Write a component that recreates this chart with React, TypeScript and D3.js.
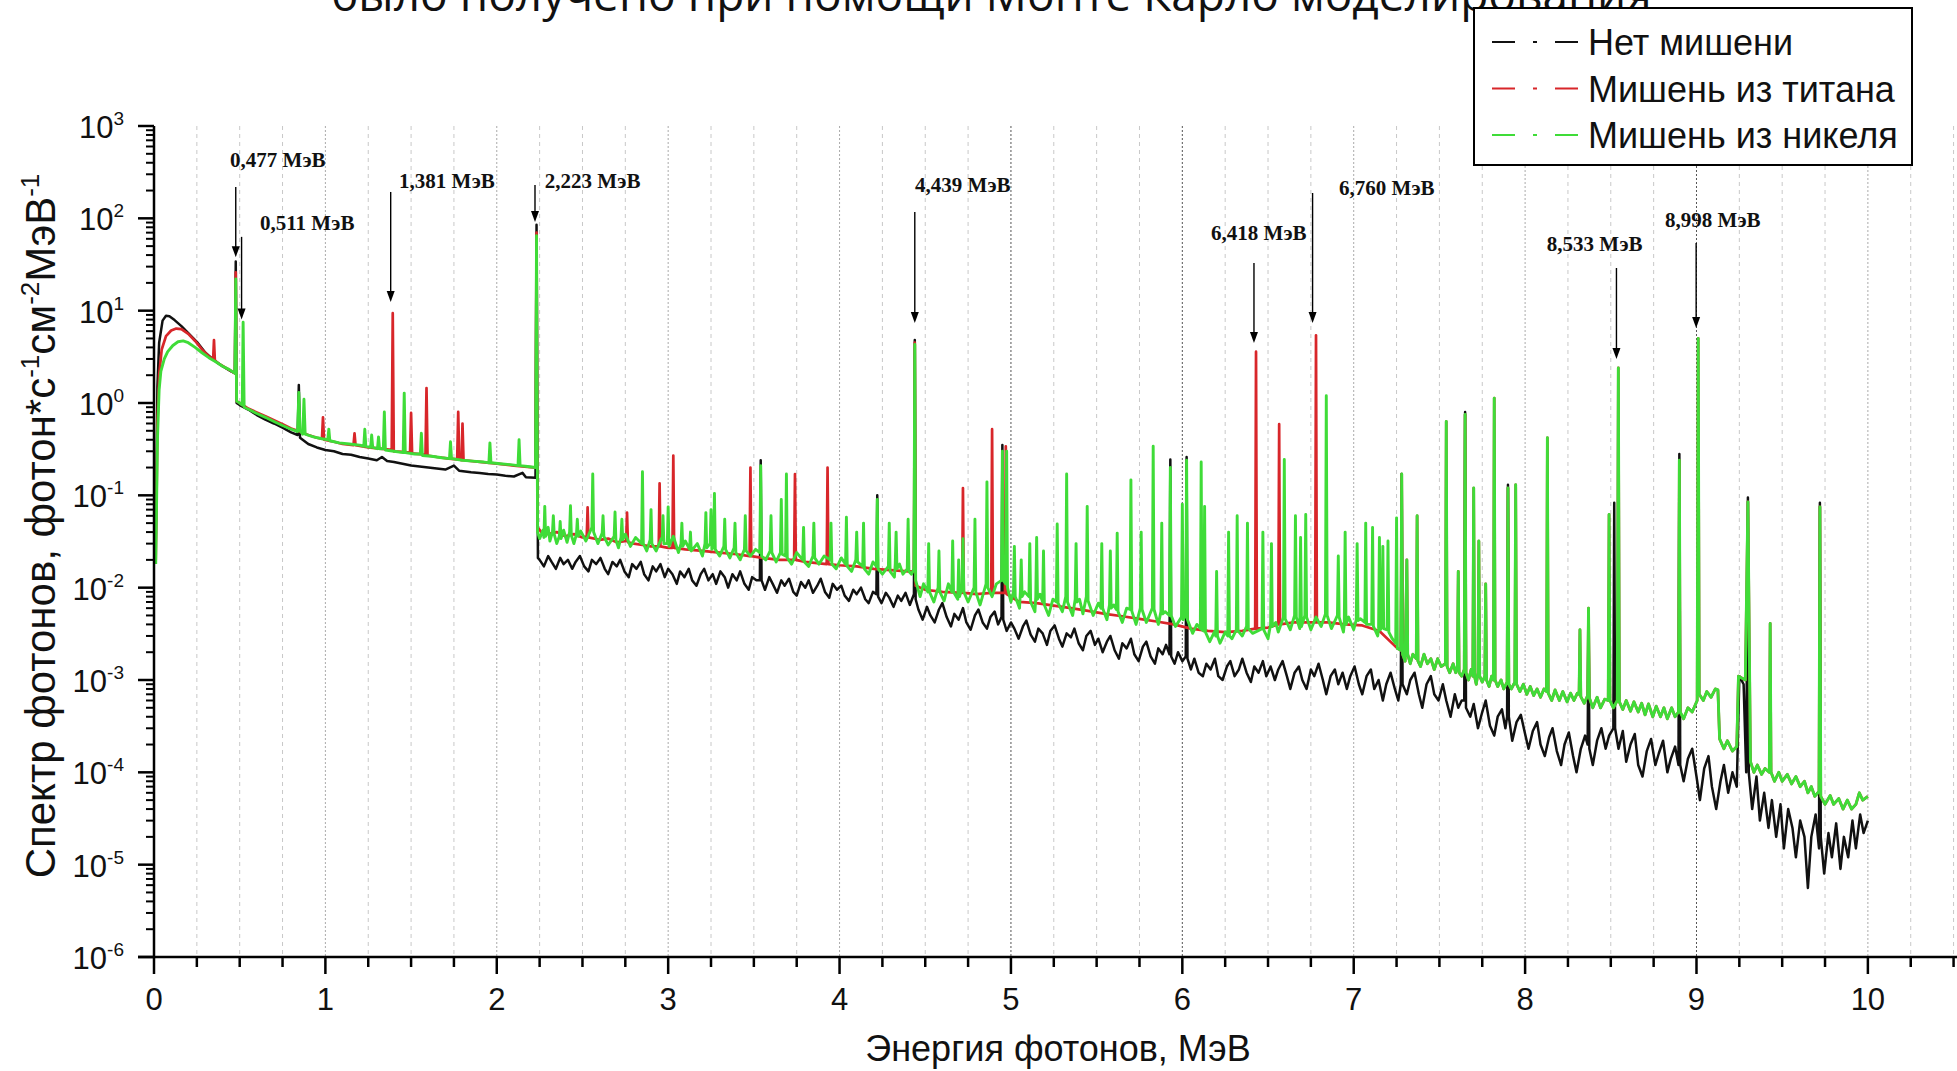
import React from "react";
import * as d3 from "d3";

type Pt = [number, number];

// spectra: [energy MeV, photons s^-1 cm^-2 MeV^-1]
const blackLow: Pt[] = [
  [0.01, 0.03], [0.015, 0.2], [0.02, 1.5], [0.03, 4.5], [0.05, 7.8], [0.07, 8.8], [0.09, 8.7], [0.12, 7.9],
  [0.16, 6.8], [0.2, 5.7], [0.25, 4.6], [0.3, 3.5], [0.35, 2.9], [0.4, 2.5], [0.45, 2.2], [0.472, 2.1],
  [0.477, 34], [0.482, 1.0], [0.5, 0.95], [0.55, 0.85], [0.6, 0.74], [0.65, 0.66], [0.7, 0.6], [0.75, 0.54],
  [0.8, 0.48], [0.838, 0.45], [0.845, 1.57], [0.852, 0.42], [0.9, 0.36], [0.95, 0.33], [1.0, 0.31], [1.05, 0.3],
  [1.1, 0.28], [1.15, 0.275], [1.2, 0.26], [1.25, 0.25], [1.3, 0.24], [1.33, 0.26], [1.36, 0.235], [1.4, 0.23],
  [1.45, 0.22], [1.5, 0.21], [1.55, 0.205], [1.6, 0.2], [1.65, 0.195], [1.7, 0.19], [1.75, 0.21], [1.78, 0.185],
  [1.85, 0.178], [1.9, 0.175], [1.95, 0.17], [2.0, 0.168], [2.05, 0.163], [2.1, 0.16], [2.15, 0.175], [2.17, 0.157],
  [2.226, 0.155], [2.232, 85], [2.24, 0.021],
];

const blackHigh: Pt[] = [
  [2.25, 0.02], [2.275, 0.017], [2.3, 0.022], [2.32, 0.019], [2.345, 0.016], [2.37, 0.021], [2.39, 0.018],
  [2.415, 0.02], [2.44, 0.016], [2.46, 0.019], [2.485, 0.022], [2.51, 0.017], [2.535, 0.015], [2.555, 0.02],
  [2.58, 0.018], [2.605, 0.021], [2.63, 0.016], [2.65, 0.014], [2.675, 0.019], [2.7, 0.017], [2.72, 0.02],
  [2.745, 0.015], [2.77, 0.013], [2.79, 0.018], [2.815, 0.016], [2.84, 0.019], [2.86, 0.014], [2.885, 0.012],
  [2.91, 0.017], [2.93, 0.015], [2.955, 0.018], [2.98, 0.013], [3.0, 0.016], [3.025, 0.014], [3.05, 0.011],
  [3.07, 0.015], [3.095, 0.013], [3.12, 0.016], [3.14, 0.012], [3.165, 0.0105], [3.19, 0.014], [3.21, 0.016],
  [3.235, 0.012], [3.26, 0.014], [3.28, 0.011], [3.305, 0.015], [3.33, 0.013], [3.35, 0.01], [3.375, 0.014],
  [3.4, 0.012], [3.42, 0.015], [3.445, 0.011], [3.47, 0.0095], [3.49, 0.013], [3.515, 0.012], [3.535, 0.012],
  [3.54, 0.24], [3.545, 0.012], [3.565, 0.0095], [3.59, 0.013], [3.61, 0.011], [3.635, 0.0088], [3.66, 0.012],
  [3.68, 0.0105], [3.705, 0.0125], [3.73, 0.009], [3.75, 0.0082], [3.775, 0.0115], [3.8, 0.01], [3.82, 0.012],
  [3.845, 0.0088], [3.87, 0.0105], [3.89, 0.0125], [3.915, 0.009], [3.94, 0.0078], [3.96, 0.011], [3.985, 0.0095],
  [4.01, 0.0105], [4.03, 0.0082], [4.055, 0.0072], [4.08, 0.0095], [4.1, 0.0085], [4.125, 0.01], [4.15, 0.0075],
  [4.17, 0.0068], [4.195, 0.009], [4.215, 0.0085], [4.22, 0.1], [4.225, 0.008], [4.245, 0.0068], [4.27, 0.0088],
  [4.29, 0.0078], [4.315, 0.0062], [4.34, 0.0082], [4.36, 0.0072], [4.385, 0.0088], [4.41, 0.0065], [4.434, 0.0085],
  [4.439, 4.8], [4.444, 0.0075], [4.46, 0.0058], [4.485, 0.0045], [4.51, 0.0062], [4.53, 0.005], [4.555, 0.0042],
  [4.58, 0.0058], [4.6, 0.0068], [4.625, 0.0048], [4.65, 0.0038], [4.67, 0.0052], [4.695, 0.0045], [4.72, 0.006],
  [4.74, 0.0042], [4.765, 0.0035], [4.79, 0.005], [4.81, 0.0058], [4.835, 0.0042], [4.86, 0.0036], [4.88, 0.0048],
  [4.905, 0.0055], [4.925, 0.004], [4.945, 0.0048], [4.95, 0.35], [4.955, 0.0045], [4.975, 0.0034], [5.0, 0.0042],
  [5.02, 0.0036], [5.045, 0.0028], [5.07, 0.0038], [5.09, 0.0044], [5.115, 0.0031], [5.14, 0.0026], [5.16, 0.0036],
  [5.185, 0.0032], [5.21, 0.0024], [5.23, 0.0034], [5.255, 0.0039], [5.28, 0.0028], [5.3, 0.0023], [5.325, 0.0032],
  [5.35, 0.0029], [5.37, 0.0036], [5.395, 0.0025], [5.42, 0.0021], [5.44, 0.003], [5.465, 0.0034], [5.49, 0.0024],
  [5.51, 0.0028], [5.535, 0.002], [5.56, 0.0026], [5.58, 0.003], [5.605, 0.0021], [5.63, 0.0017], [5.65, 0.0025],
  [5.675, 0.0022], [5.7, 0.0028], [5.72, 0.0019], [5.745, 0.0016], [5.77, 0.0023], [5.79, 0.0026], [5.815, 0.0018],
  [5.84, 0.0015], [5.86, 0.0022], [5.885, 0.0019], [5.905, 0.0024], [5.925, 0.0019], [5.93, 0.245], [5.935, 0.0018],
  [5.955, 0.0015], [5.975, 0.002], [6.0, 0.0016], [6.02, 0.0018], [6.025, 0.26], [6.03, 0.0017], [6.05, 0.0013],
  [6.07, 0.0017], [6.095, 0.0012], [6.12, 0.0011], [6.14, 0.0015], [6.165, 0.0013], [6.19, 0.0017], [6.21, 0.0011],
  [6.235, 0.001], [6.26, 0.0014], [6.28, 0.0016], [6.305, 0.0011], [6.33, 0.0013], [6.35, 0.0017], [6.375, 0.0012],
  [6.4, 0.00095], [6.42, 0.0014], [6.445, 0.0012], [6.47, 0.0016], [6.49, 0.0011], [6.515, 0.0014], [6.54, 0.001],
  [6.56, 0.0013], [6.585, 0.0016], [6.61, 0.0011], [6.63, 0.0008], [6.655, 0.0012], [6.68, 0.0014], [6.7, 0.001],
  [6.725, 0.0008], [6.75, 0.0013], [6.77, 0.0011], [6.795, 0.0015], [6.82, 0.001], [6.84, 0.0007], [6.865, 0.0011],
  [6.89, 0.0013], [6.91, 0.0009], [6.935, 0.0012], [6.96, 0.0008], [6.98, 0.0011], [7.005, 0.0014], [7.03, 0.0009],
  [7.05, 0.0007], [7.075, 0.0011], [7.1, 0.0013], [7.12, 0.0008], [7.145, 0.001], [7.17, 0.0006], [7.19, 0.0009],
  [7.215, 0.0012], [7.24, 0.0008], [7.26, 0.0006], [7.275, 0.0009], [7.28, 0.17], [7.285, 0.0009], [7.31, 0.0007],
  [7.33, 0.001], [7.355, 0.0012], [7.38, 0.0007], [7.4, 0.0005], [7.425, 0.0009], [7.45, 0.0011], [7.47, 0.0007],
  [7.495, 0.0006], [7.52, 0.0009], [7.54, 0.0006], [7.565, 0.0004], [7.59, 0.0007], [7.61, 0.0005], [7.63, 0.0006],
  [7.645, 0.0006], [7.65, 0.8], [7.655, 0.0005], [7.68, 0.0004], [7.7, 0.00055], [7.725, 0.0003], [7.75, 0.00045],
  [7.77, 0.0006], [7.795, 0.00032], [7.82, 0.00025], [7.84, 0.0004], [7.865, 0.00048], [7.885, 0.0003],
  [7.895, 0.0004], [7.9, 0.13], [7.905, 0.0004], [7.925, 0.00022], [7.95, 0.00035], [7.975, 0.00042], [8.0, 0.00026],
  [8.02, 0.00018], [8.045, 0.00028], [8.07, 0.00035], [8.09, 0.0002], [8.115, 0.00015], [8.14, 0.00024], [8.16, 0.0003],
  [8.185, 0.00017], [8.21, 0.00012], [8.23, 0.0002], [8.255, 0.00027], [8.28, 0.00015], [8.3, 0.0001], [8.325, 0.00018],
  [8.35, 0.00025], [8.365, 0.0002], [8.37, 0.0055], [8.375, 0.00018], [8.395, 0.00012], [8.42, 0.00022], [8.445, 0.0003],
  [8.47, 0.00018], [8.49, 0.00025], [8.515, 0.0003], [8.52, 0.083], [8.525, 0.0003], [8.545, 0.00018], [8.57, 0.00028],
  [8.59, 0.00013], [8.615, 0.0002], [8.64, 0.00026], [8.66, 0.00012], [8.685, 0.00009], [8.71, 0.00017],
  [8.735, 0.00023], [8.76, 0.00012], [8.78, 0.00016], [8.805, 0.00022], [8.83, 0.0001], [8.85, 0.00014],
  [8.875, 0.00019], [8.895, 0.00012], [8.9, 0.28], [8.905, 0.00012], [8.925, 0.00008], [8.95, 0.00014],
  [8.975, 0.00018], [9.0, 0.00009], [9.02, 0.00005], [9.045, 0.00011], [9.07, 0.00015], [9.09, 0.00007],
  [9.115, 0.00004], [9.14, 0.00008], [9.16, 0.00012], [9.185, 0.00006], [9.21, 0.0001], [9.235, 0.00007],
  [9.25, 0.0011], [9.275, 0.0009], [9.29, 0.0001], [9.3, 0.095], [9.305, 0.0001], [9.325, 0.00004], [9.35, 0.00009],
  [9.37, 0.00003], [9.395, 0.00006], [9.42, 0.000025], [9.44, 0.00005], [9.465, 0.00002], [9.49, 0.000045],
  [9.51, 0.000015], [9.535, 0.00004], [9.56, 0.000025], [9.58, 0.000012], [9.605, 0.00003], [9.63, 0.00002],
  [9.65, 0.0000056], [9.67, 0.00002], [9.695, 0.000035], [9.715, 0.000015], [9.72, 0.083], [9.725, 0.00002],
  [9.745, 0.000008], [9.77, 0.000022], [9.79, 0.000012], [9.815, 0.000028], [9.84, 0.000009], [9.86, 0.00002],
  [9.885, 0.000012], [9.91, 0.00003], [9.93, 0.000015], [9.955, 0.000035], [9.975, 0.000022], [10.0, 0.00003],
];

const greenLow: Pt[] = [
  [0.01, 0.018], [0.015, 0.08], [0.02, 0.4], [0.03, 1.4], [0.04, 2.2], [0.06, 3.0], [0.08, 3.6], [0.11, 4.2],
  [0.14, 4.6], [0.17, 4.7], [0.2, 4.5], [0.24, 4.0], [0.28, 3.5], [0.32, 3.1], [0.36, 2.8], [0.4, 2.5], [0.44, 2.3],
  [0.472, 2.1], [0.477, 22], [0.482, 1.05], [0.5, 1.0], [0.515, 0.95], [0.52, 7.5], [0.526, 0.9], [0.56, 0.84],
  [0.6, 0.77], [0.65, 0.7], [0.7, 0.63], [0.75, 0.57], [0.8, 0.52], [0.838, 0.49], [0.845, 1.3], [0.852, 0.5],
  [0.868, 0.46], [0.875, 1.1], [0.882, 0.46], [0.93, 0.43], [0.98, 0.41], [1.014, 0.4], [1.02, 0.52], [1.026, 0.39],
  [1.08, 0.37], [1.14, 0.36], [1.2, 0.35], [1.224, 0.34], [1.23, 0.52], [1.236, 0.34], [1.264, 0.33], [1.27, 0.45],
  [1.276, 0.33], [1.304, 0.32], [1.31, 0.43], [1.316, 0.32], [1.338, 0.32], [1.344, 0.8], [1.35, 0.31], [1.4, 0.3],
  [1.454, 0.29], [1.46, 1.28], [1.466, 0.29], [1.52, 0.28], [1.554, 0.28], [1.56, 0.47], [1.566, 0.27], [1.62, 0.265],
  [1.68, 0.255], [1.724, 0.25], [1.73, 0.38], [1.736, 0.25], [1.8, 0.24], [1.86, 0.235], [1.92, 0.23], [1.954, 0.225],
  [1.96, 0.37], [1.966, 0.225], [2.02, 0.22], [2.08, 0.215], [2.124, 0.21], [2.13, 0.4], [2.136, 0.21], [2.18, 0.205],
  [2.226, 0.2], [2.232, 65], [2.238, 0.04],
];

const greenMid: Pt[] = [
  [2.25, 0.034], [2.27, 0.042], [2.275, 0.035], [2.28, 0.076], [2.285, 0.036], [2.3, 0.045], [2.31, 0.032],
  [2.325, 0.04], [2.33, 0.06], [2.335, 0.038], [2.35, 0.03], [2.365, 0.036], [2.37, 0.052], [2.375, 0.034],
  [2.39, 0.042], [2.41, 0.031], [2.425, 0.04], [2.43, 0.077], [2.435, 0.037], [2.45, 0.03], [2.465, 0.038],
  [2.47, 0.055], [2.475, 0.036], [2.49, 0.041], [2.52, 0.032], [2.555, 0.045], [2.56, 0.17], [2.565, 0.04],
  [2.59, 0.03], [2.615, 0.039], [2.62, 0.06], [2.625, 0.036], [2.65, 0.029], [2.685, 0.036], [2.69, 0.066],
  [2.695, 0.033], [2.71, 0.027], [2.725, 0.035], [2.73, 0.055], [2.735, 0.033], [2.75, 0.038], [2.78, 0.028],
  [2.81, 0.035], [2.845, 0.03], [2.85, 0.18], [2.855, 0.03], [2.875, 0.025], [2.895, 0.033], [2.9, 0.07],
  [2.905, 0.03], [2.93, 0.025], [2.96, 0.034], [2.965, 0.033], [2.97, 0.06], [2.975, 0.03], [2.995, 0.03],
  [3.0, 0.075], [3.005, 0.028], [3.03, 0.036], [3.06, 0.024], [3.075, 0.03], [3.08, 0.05], [3.085, 0.028],
  [3.1, 0.032], [3.125, 0.026], [3.13, 0.04], [3.135, 0.025], [3.17, 0.03], [3.2, 0.022], [3.215, 0.03],
  [3.22, 0.065], [3.225, 0.027], [3.245, 0.03], [3.25, 0.07], [3.255, 0.026], [3.265, 0.028], [3.27, 0.105],
  [3.275, 0.026], [3.3, 0.022], [3.325, 0.028], [3.33, 0.055], [3.335, 0.026], [3.36, 0.021], [3.385, 0.027],
  [3.39, 0.05], [3.395, 0.024], [3.42, 0.02], [3.445, 0.026], [3.45, 0.06], [3.455, 0.025], [3.48, 0.022],
  [3.51, 0.026], [3.535, 0.024], [3.54, 0.21], [3.545, 0.022], [3.57, 0.02], [3.595, 0.025], [3.6, 0.06],
  [3.605, 0.024], [3.63, 0.019], [3.655, 0.024], [3.66, 0.09], [3.665, 0.023], [3.685, 0.022], [3.69, 0.17],
  [3.695, 0.021], [3.72, 0.018], [3.75, 0.024], [3.785, 0.02], [3.79, 0.045], [3.795, 0.019], [3.82, 0.017],
  [3.845, 0.022], [3.85, 0.05], [3.855, 0.021], [3.88, 0.018], [3.91, 0.022], [3.945, 0.02], [3.95, 0.05],
  [3.955, 0.018], [3.98, 0.016], [4.01, 0.021], [4.035, 0.018], [4.04, 0.058], [4.045, 0.017], [4.07, 0.015],
  [4.095, 0.02], [4.1, 0.04], [4.105, 0.019], [4.135, 0.017], [4.14, 0.05], [4.145, 0.016], [4.17, 0.014],
  [4.195, 0.019], [4.215, 0.017], [4.22, 0.09], [4.225, 0.016], [4.25, 0.014], [4.285, 0.017], [4.29, 0.05],
  [4.295, 0.015], [4.32, 0.013], [4.325, 0.018], [4.33, 0.04], [4.335, 0.016], [4.35, 0.018], [4.37, 0.014],
  [4.395, 0.016], [4.4, 0.055], [4.405, 0.015], [4.42, 0.014], [4.434, 0.016], [4.439, 4.3], [4.444, 0.012],
  [4.47, 0.008], [4.49, 0.011], [4.515, 0.009], [4.52, 0.03], [4.525, 0.009], [4.55, 0.007], [4.575, 0.01],
  [4.58, 0.025], [4.585, 0.009], [4.61, 0.0072], [4.635, 0.011], [4.655, 0.009], [4.66, 0.032], [4.665, 0.009],
  [4.69, 0.0075], [4.695, 0.02], [4.7, 0.008], [4.715, 0.01], [4.72, 0.034], [4.725, 0.009], [4.75, 0.007],
  [4.785, 0.01], [4.79, 0.055], [4.795, 0.009], [4.82, 0.0065], [4.855, 0.011], [4.86, 0.14], [4.865, 0.01],
  [4.89, 0.008], [4.915, 0.011], [4.945, 0.012], [4.95, 0.3], [4.955, 0.012], [4.97, 0.011], [4.975, 0.3],
  [4.98, 0.01], [5.0, 0.007], [5.015, 0.009], [5.02, 0.028], [5.025, 0.008], [5.05, 0.006], [5.055, 0.009],
  [5.06, 0.02], [5.065, 0.008], [5.08, 0.009], [5.105, 0.008], [5.11, 0.03], [5.115, 0.007], [5.14, 0.0055],
  [5.145, 0.008], [5.15, 0.035], [5.155, 0.0075], [5.17, 0.0085], [5.185, 0.007], [5.19, 0.025], [5.195, 0.0065],
  [5.22, 0.005], [5.245, 0.0075], [5.265, 0.007], [5.27, 0.049], [5.275, 0.0068], [5.3, 0.0055], [5.32, 0.008],
  [5.325, 0.17], [5.33, 0.007], [5.36, 0.005], [5.375, 0.0075], [5.38, 0.03], [5.385, 0.007], [5.4, 0.0075],
  [5.42, 0.0052], [5.44, 0.008], [5.445, 0.076], [5.45, 0.0072], [5.48, 0.005], [5.51, 0.0068], [5.525, 0.006],
  [5.53, 0.03], [5.535, 0.006], [5.56, 0.0045], [5.575, 0.0065], [5.58, 0.025], [5.585, 0.006], [5.6, 0.0065],
  [5.615, 0.0058], [5.62, 0.039], [5.625, 0.0055], [5.65, 0.0042], [5.675, 0.006], [5.695, 0.0058], [5.7, 0.147],
  [5.705, 0.0056], [5.73, 0.004], [5.755, 0.006], [5.76, 0.04], [5.765, 0.0058], [5.79, 0.0042], [5.825, 0.006],
  [5.83, 0.34], [5.835, 0.0058], [5.86, 0.004], [5.875, 0.0055], [5.88, 0.05], [5.885, 0.0052], [5.9, 0.0055],
  [5.925, 0.005], [5.93, 0.2], [5.935, 0.005], [5.96, 0.0038], [5.995, 0.0048], [6.0, 0.08], [6.005, 0.0045],
  [6.02, 0.005], [6.025, 0.24], [6.03, 0.0045], [6.06, 0.0032], [6.085, 0.004], [6.105, 0.0036], [6.11, 0.23],
  [6.115, 0.0035], [6.125, 0.0034], [6.13, 0.076], [6.135, 0.0033], [6.16, 0.0026], [6.19, 0.0034], [6.195, 0.003],
  [6.2, 0.015], [6.205, 0.003], [6.22, 0.0025], [6.25, 0.0033], [6.265, 0.003], [6.27, 0.04], [6.275, 0.003],
  [6.29, 0.0028], [6.315, 0.0035], [6.32, 0.06], [6.325, 0.0034], [6.35, 0.003], [6.375, 0.0038], [6.38, 0.05],
  [6.385, 0.0036], [6.41, 0.0032], [6.44, 0.0034], [6.465, 0.0036], [6.47, 0.04], [6.475, 0.0035], [6.5, 0.0028],
  [6.515, 0.004], [6.52, 0.03], [6.525, 0.0038], [6.545, 0.0042], [6.56, 0.0033], [6.59, 0.0048], [6.595, 0.245],
  [6.6, 0.0046], [6.63, 0.0035], [6.655, 0.005], [6.66, 0.06], [6.665, 0.0048], [6.685, 0.0036], [6.69, 0.035],
  [6.695, 0.0038], [6.715, 0.005], [6.72, 0.062], [6.725, 0.0048], [6.75, 0.0035], [6.78, 0.0048], [6.81, 0.0038],
  [6.835, 0.0052], [6.84, 1.2], [6.845, 0.005], [6.87, 0.0036], [6.905, 0.005], [6.91, 0.022], [6.915, 0.0048],
  [6.94, 0.0033], [6.945, 0.004], [6.95, 0.04], [6.955, 0.004], [6.97, 0.0048], [7.0, 0.0035], [7.015, 0.0045],
  [7.02, 0.03], [7.025, 0.0044], [7.04, 0.0046], [7.065, 0.0042], [7.07, 0.05], [7.075, 0.004], [7.105, 0.004],
  [7.11, 0.045], [7.115, 0.0038], [7.14, 0.003], [7.145, 0.0036], [7.15, 0.035], [7.155, 0.0035], [7.165, 0.0038],
  [7.17, 0.028], [7.175, 0.0036], [7.195, 0.0035], [7.2, 0.032], [7.205, 0.0033], [7.225, 0.0028], [7.245, 0.0025],
  [7.25, 0.057], [7.255, 0.0022],
];

const greenHigh: Pt[] = [
  [7.275, 0.0021], [7.28, 0.17], [7.285, 0.0019], [7.3, 0.0016], [7.31, 0.02], [7.315, 0.0019], [7.33, 0.0015],
  [7.345, 0.0019], [7.365, 0.0017], [7.37, 0.06], [7.375, 0.0016], [7.39, 0.0014], [7.41, 0.0019], [7.43, 0.0015],
  [7.45, 0.0017], [7.47, 0.0013], [7.49, 0.0017], [7.51, 0.0014], [7.535, 0.0015], [7.54, 0.63], [7.545, 0.0014],
  [7.56, 0.0012], [7.58, 0.0015], [7.595, 0.0012], [7.605, 0.0014], [7.61, 0.015], [7.615, 0.0012], [7.63, 0.0011],
  [7.645, 0.0013], [7.65, 0.75], [7.655, 0.0012], [7.67, 0.001], [7.685, 0.0013], [7.695, 0.0011], [7.7, 0.12],
  [7.705, 0.0011], [7.715, 0.0009], [7.725, 0.0012], [7.73, 0.032], [7.735, 0.0011], [7.75, 0.00095],
  [7.765, 0.0011], [7.77, 0.011], [7.775, 0.001], [7.79, 0.00085], [7.805, 0.0011], [7.815, 0.001], [7.82, 1.13],
  [7.825, 0.001], [7.84, 0.00085], [7.86, 0.001], [7.875, 0.0008], [7.895, 0.00095], [7.9, 0.12], [7.905, 0.0009],
  [7.92, 0.0008], [7.94, 0.00095], [7.945, 0.13], [7.95, 0.0009], [7.97, 0.00075], [7.99, 0.0009], [8.01, 0.0007],
  [8.03, 0.00085], [8.05, 0.00068], [8.07, 0.0008], [8.09, 0.00065], [8.11, 0.0008], [8.125, 0.00075], [8.13, 0.42],
  [8.135, 0.00072], [8.155, 0.0006], [8.175, 0.00078], [8.2, 0.0006], [8.22, 0.00075], [8.245, 0.00058],
  [8.265, 0.00072], [8.285, 0.0006], [8.305, 0.00072], [8.315, 0.0007], [8.32, 0.0035], [8.325, 0.00066],
  [8.345, 0.00056], [8.365, 0.00068], [8.37, 0.006], [8.375, 0.00064], [8.395, 0.0005], [8.42, 0.00065],
  [8.44, 0.0005], [8.465, 0.00062], [8.485, 0.0006], [8.49, 0.062], [8.495, 0.0006], [8.515, 0.0005],
  [8.538, 0.0006], [8.544, 2.4], [8.55, 0.00058], [8.57, 0.00048], [8.59, 0.0006], [8.615, 0.00046],
  [8.635, 0.00058], [8.66, 0.00045], [8.68, 0.00056], [8.7, 0.00042], [8.72, 0.00055], [8.745, 0.0004],
  [8.765, 0.00052], [8.79, 0.0004], [8.81, 0.0005], [8.83, 0.00038], [8.855, 0.0005], [8.875, 0.0004],
  [8.895, 0.00045], [8.9, 0.24], [8.905, 0.00045], [8.925, 0.00038], [8.95, 0.0005], [8.975, 0.00045],
  [9.004, 0.0006], [9.01, 5.0], [9.016, 0.0007], [9.04, 0.0006], [9.06, 0.00075], [9.085, 0.00065], [9.11, 0.0008],
  [9.125, 0.00078], [9.135, 0.00023], [9.16, 0.00018], [9.18, 0.00022], [9.21, 0.00017], [9.235, 0.00019],
  [9.245, 0.0011], [9.285, 0.001], [9.3, 0.085], [9.315, 0.00013], [9.335, 0.0001], [9.355, 0.00012],
  [9.38, 0.000095], [9.4, 0.00011], [9.425, 0.0001], [9.43, 0.0041], [9.435, 0.0001], [9.455, 0.00008],
  [9.48, 0.0001], [9.5, 0.00008], [9.53, 0.000095], [9.555, 0.000075], [9.58, 0.00009], [9.605, 0.00007],
  [9.63, 0.00008], [9.65, 0.00006], [9.67, 0.00007], [9.69, 0.000055], [9.715, 0.000062], [9.72, 0.075],
  [9.725, 0.000055], [9.75, 0.000045], [9.78, 0.000056], [9.8, 0.000045], [9.83, 0.000052], [9.855, 0.00004],
  [9.88, 0.00005], [9.905, 0.00004], [9.93, 0.000045], [9.95, 0.00006], [9.97, 0.00005], [10.0, 0.000055],
];

const redLow: Pt[] = [
  [0.01, 0.02], [0.015, 0.1], [0.02, 0.6], [0.03, 2.0], [0.045, 3.8], [0.07, 5.3], [0.1, 6.1], [0.13, 6.4],
  [0.16, 6.3], [0.2, 5.6], [0.24, 4.7], [0.28, 3.8], [0.32, 3.2], [0.345, 2.95], [0.35, 4.8], [0.355, 2.9],
  [0.38, 2.65], [0.42, 2.4], [0.472, 2.1], [0.477, 26], [0.482, 1.05], [0.5, 1.0], [0.55, 0.87], [0.6, 0.79],
  [0.65, 0.72], [0.7, 0.65], [0.75, 0.59], [0.8, 0.53], [0.85, 0.49], [0.9, 0.45], [0.95, 0.42], [0.98, 0.41],
  [0.986, 0.7], [0.992, 0.4], [1.05, 0.38], [1.1, 0.36], [1.164, 0.35], [1.17, 0.47], [1.176, 0.35], [1.25, 0.33],
  [1.32, 0.32], [1.387, 0.31], [1.393, 9.4], [1.399, 0.3], [1.45, 0.295], [1.494, 0.29], [1.5, 0.78], [1.506, 0.285],
  [1.55, 0.28], [1.584, 0.275], [1.59, 1.45], [1.596, 0.27], [1.65, 0.26], [1.72, 0.25], [1.769, 0.245], [1.775, 0.8],
  [1.781, 0.245], [1.795, 0.24], [1.8, 0.6], [1.806, 0.24], [1.9, 0.23], [2.0, 0.22], [2.1, 0.21], [2.226, 0.2],
  [2.232, 70], [2.238, 0.045],
];

const redMid: Pt[] = [
  [2.26, 0.04], [2.3, 0.038], [2.35, 0.04], [2.4, 0.036], [2.45, 0.038], [2.5, 0.035], [2.525, 0.036], [2.53, 0.074],
  [2.535, 0.035], [2.6, 0.033], [2.65, 0.034], [2.7, 0.031], [2.755, 0.032], [2.76, 0.065], [2.765, 0.031],
  [2.8, 0.03], [2.85, 0.029], [2.9, 0.028], [2.945, 0.028], [2.95, 0.135], [2.955, 0.028], [3.0, 0.027],
  [3.025, 0.027], [3.03, 0.27], [3.035, 0.027], [3.1, 0.026], [3.2, 0.025], [3.3, 0.024], [3.4, 0.023],
  [3.475, 0.022], [3.48, 0.2], [3.485, 0.022], [3.55, 0.021], [3.65, 0.02], [3.735, 0.02], [3.74, 0.17],
  [3.745, 0.02], [3.8, 0.019], [3.925, 0.018], [3.93, 0.2], [3.935, 0.018], [4.0, 0.0175], [4.1, 0.017],
  [4.2, 0.016], [4.3, 0.0155], [4.4, 0.015], [4.434, 0.015], [4.439, 4.5], [4.444, 0.0105], [4.5, 0.0095],
  [4.6, 0.009], [4.715, 0.0088], [4.72, 0.12], [4.725, 0.0088], [4.8, 0.0085], [4.885, 0.0088], [4.89, 0.52],
  [4.895, 0.0088], [4.965, 0.0088], [4.97, 0.34], [4.975, 0.0085], [5.05, 0.007], [5.15, 0.0068], [5.25, 0.0064],
  [5.35, 0.006], [5.45, 0.0056], [5.55, 0.0052], [5.65, 0.0049], [5.75, 0.0046], [5.85, 0.0043], [5.95, 0.004],
  [6.05, 0.0036], [6.15, 0.0034], [6.25, 0.0033], [6.35, 0.0034], [6.425, 0.0036], [6.43, 3.6], [6.435, 0.0036],
  [6.5, 0.0037], [6.56, 0.004], [6.565, 0.59], [6.57, 0.004], [6.65, 0.0042], [6.72, 0.0042], [6.775, 0.0042],
  [6.78, 5.4], [6.785, 0.0042], [6.85, 0.0042], [6.95, 0.004], [7.05, 0.0039], [7.15, 0.0034], [7.255, 0.0022],
];

// above ~7.25 MeV the titanium curve lies under the nickel one
const blackSpectrum: Pt[] = [...blackLow, ...blackHigh];
const greenSpectrum: Pt[] = [...greenLow, ...greenMid, ...greenHigh];
const redSpectrum: Pt[] = [...redLow, ...redMid, ...greenHigh];

const seriesNames = ["Нет мишени", "Мишень из титана", "Мишень из никеля"];
const seriesColors = ["#111111", "#d8262a", "#3fdc38"];

const xMajorTicks = [0, 1, 2, 3, 4, 5, 6, 7, 8, 9, 10];
const yExponents = [-6, -5, -4, -3, -2, -1, 0, 1, 2, 3];

// peak labels: energy of arrow, arrow top / tip values, label anchor (energy, value)
const peakLabels = [
  { text: "0,477 МэВ", e: 0.477, top: 218, tip: 38, le: 0.443, lv: 360 },
  { text: "0,511 МэВ", e: 0.511, top: 63, tip: 8, le: 0.618, lv: 75 },
  { text: "1,381 МэВ", e: 1.381, top: 193, tip: 12.4, le: 1.43, lv: 213 },
  { text: "2,223 МэВ", e: 2.223, top: 229, tip: 91, le: 2.28, lv: 213 },
  { text: "4,439 МэВ", e: 4.439, top: 117, tip: 7.35, le: 4.44, lv: 193 },
  { text: "6,418 МэВ", e: 6.418, top: 32.8, tip: 4.47, le: 6.167, lv: 58 },
  { text: "6,760 МэВ", e: 6.76, top: 188, tip: 7.35, le: 6.914, lv: 179 },
  { text: "8,533 МэВ", e: 8.533, top: 29, tip: 2.99, le: 8.127, lv: 44 },
  { text: "8,998 МэВ", e: 8.998, top: 54, tip: 6.5, le: 8.816, lv: 80.5 },
];

const W = 1957;
const H = 1071;
const plotTop = 126;
const plotBottom = 957;
const plotLeft = 154;

export default function App() {
  const x = d3.scaleLinear().domain([0, 10.52]).range([plotLeft, W]);
  const y = d3.scaleLog().domain([1e-6, 1e3]).range([plotBottom, plotTop]);
  const line = d3
    .line<Pt>()
    .x((d) => x(d[0]))
    .y((d) => y(d[1]));

  const quarterTicks = d3.range(0.25, 10.51, 0.25).filter((v) => Math.abs(v - Math.round(v)) > 0.01);
  const minorY: number[] = [];
  yExponents.slice(0, -1).forEach((p) => {
    for (let k = 2; k <= 9; k++) minorY.push(k * Math.pow(10, p));
  });

  const font = "'Liberation Sans', Arial, sans-serif";
  const serif = "'Liberation Serif', 'Times New Roman', serif";

  return (
    <svg
      width={W}
      height={H}
      style={{ position: "absolute", left: 0, top: 0, background: "#fff" }}
    >
      <rect width={W} height={H} fill="#fff" />

      {/* slide text above the chart, cut off by the picture edge */}
      <text x={331} y={11} fontFamily="'Open Sans', sans-serif" fontSize={46} fill="#111">
        было получено при помощи Монте Карло моделирования
      </text>

      {/* vertical grid */}
      {quarterTicks.map((t) => (
        <line key={"g" + t} x1={x(t)} x2={x(t)} y1={plotTop} y2={plotBottom}
          stroke="#c8c8c8" strokeWidth={1} strokeDasharray="4 4" />
      ))}
      {xMajorTicks.slice(1).map((t) => (
        <line key={"G" + t} x1={x(t)} x2={x(t)} y1={plotTop} y2={plotBottom}
          stroke={t === 5 || t === 6 || t === 9 ? "#555" : "#aaa"} strokeWidth={1} strokeDasharray="2 2" />
      ))}

      {/* spectra */}
      <g fill="none" strokeLinejoin="round">
        <path d={line(blackSpectrum) || ""} stroke={seriesColors[0]} strokeWidth={2.5} />
        <path d={line(redSpectrum) || ""} stroke={seriesColors[1]} strokeWidth={2.7} />
        <path d={line(greenSpectrum) || ""} stroke={seriesColors[2]} strokeWidth={2.9} />
      </g>

      {/* axes */}
      <line x1={plotLeft} x2={plotLeft} y1={plotTop} y2={plotBottom} stroke="#000" strokeWidth={2.5} />
      <line x1={plotLeft - 16} x2={W} y1={plotBottom} y2={plotBottom} stroke="#000" strokeWidth={2.5} />
      {yExponents.map((p) => (
        <g key={"y" + p}>
          <line x1={plotLeft - 16} x2={plotLeft} y1={y(Math.pow(10, p))} y2={y(Math.pow(10, p))}
            stroke="#000" strokeWidth={2.5} />
          <text x={124} y={y(Math.pow(10, p)) + 12} textAnchor="end" fontFamily={font} fontSize={31} fill="#111">
            10<tspan dy={-13} fontSize={19}>{p}</tspan>
          </text>
        </g>
      ))}
      {minorY.map((v, i) => (
        <line key={"ym" + i} x1={plotLeft - 8} x2={plotLeft} y1={y(v)} y2={y(v)} stroke="#000" strokeWidth={2} />
      ))}
      {xMajorTicks.map((t) => (
        <g key={"x" + t}>
          <line x1={x(t)} x2={x(t)} y1={plotBottom} y2={plotBottom + 17} stroke="#000" strokeWidth={2.5} />
          <text x={x(t)} y={1010} textAnchor="middle" fontFamily={font} fontSize={31} fill="#111">
            {t}
          </text>
        </g>
      ))}
      {quarterTicks.map((t) => (
        <line key={"xm" + t} x1={x(t)} x2={x(t)} y1={plotBottom} y2={plotBottom + 10} stroke="#000" strokeWidth={2.5} />
      ))}

      {/* axis titles */}
      <text x={1058} y={1061} textAnchor="middle" fontFamily={font} fontSize={36} fill="#111">
        Энергия фотонов, МэВ
      </text>
      <text transform="translate(55,526) rotate(-90)" textAnchor="middle" fontFamily={font} fontSize={42} fill="#111">
        Спектр фотонов, фотон*с<tspan dy={-16} fontSize={26}>-1</tspan>
        <tspan dy={16}>см</tspan>
        <tspan dy={-16} fontSize={26}>-2</tspan>
        <tspan dy={16}>МэВ</tspan>
        <tspan dy={-16} fontSize={26}>-1</tspan>
      </text>

      {/* peak annotations */}
      {peakLabels.map((a) => {
        const ax = x(a.e);
        const ty = y(a.tip);
        return (
          <g key={a.text}>
            <line x1={ax} x2={ax} y1={y(a.top)} y2={ty - 9} stroke="#000" strokeWidth={1.4} />
            <path d={`M${ax - 4},${ty - 11}L${ax + 4},${ty - 11}L${ax},${ty}Z`} fill="#000" />
            <text x={x(a.le)} y={y(a.lv)} fontFamily={serif} fontWeight="bold" fontSize={21} fill="#111">
              {a.text}
            </text>
          </g>
        );
      })}

      {/* legend */}
      <rect x={1474} y={8} width={438} height={157} fill="#fff" stroke="#000" strokeWidth={2} />
      {seriesNames.map((name, i) => (
        <g key={name}>
          <line x1={1492} x2={1578} y1={42 + i * 46.5} y2={42 + i * 46.5} stroke={seriesColors[i]}
            strokeWidth={2} strokeDasharray="23 18 4 18 23" />
          <text x={1588} y={55 + i * 46.5} fontFamily={font} fontSize={36} fill="#111">
            {name}
          </text>
        </g>
      ))}
    </svg>
  );
}
